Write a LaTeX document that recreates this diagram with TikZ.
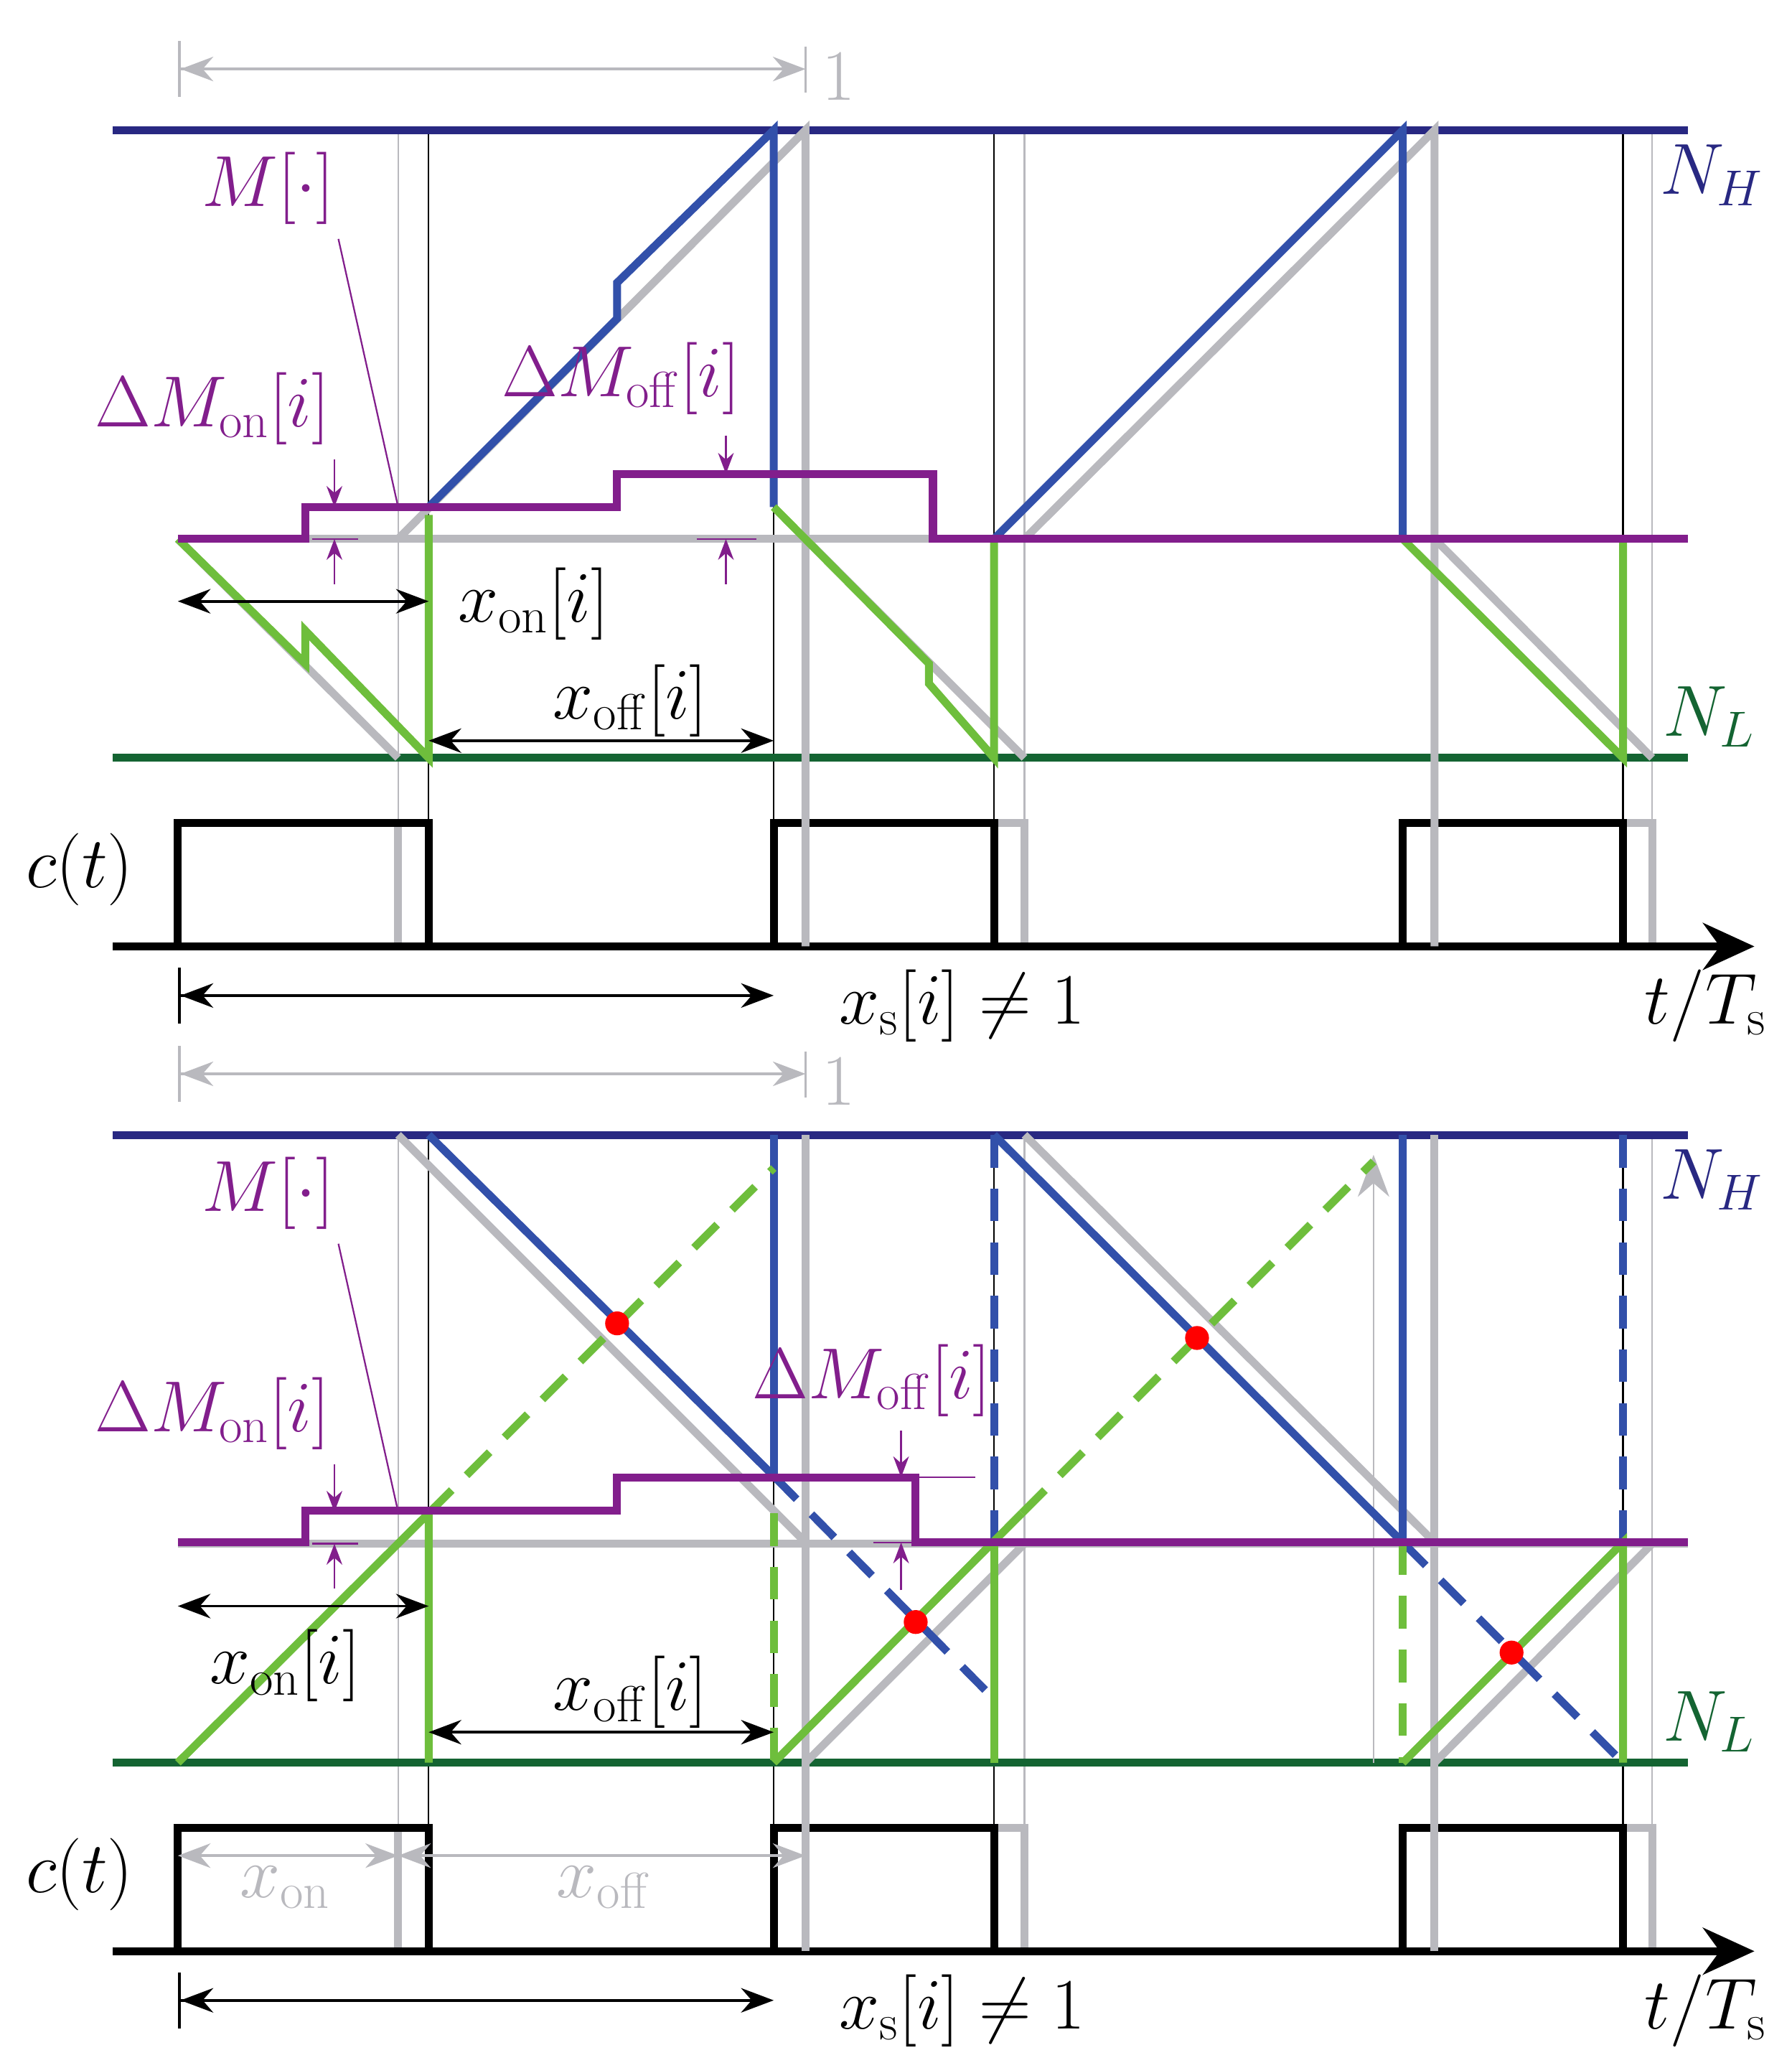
\RequirePackage{fix-cm}
\documentclass[tikz,border=0pt]{standalone}
\usepackage{amsmath}
\usetikzlibrary{arrows.meta}
\definecolor{navy}{RGB}{40,40,130}
\definecolor{rampblue}{RGB}{50,80,170}
\definecolor{rampgreen}{RGB}{110,190,60}
\definecolor{dkgreen}{RGB}{20,100,50}
\definecolor{mpurple}{RGB}{130,30,140}
\definecolor{lgray}{RGB}{185,185,190}
\tikzset{
  thk/.style={line width=3.4pt},
  thn/.style={line width=0.7pt},
  lbl/.style={font=\fontsize{31}{35}\selectfont, inner sep=0pt},
  dims/.style={line width=1.2pt, {Bar[width=24pt]Stealth[length=14pt]}-{Stealth[length=14pt]}},
  dim/.style={line width=1.2pt, {Stealth[length=14pt]}-{Stealth[length=14pt]}},
  dsh/.style={thk, dash pattern=on 14pt off 9pt}
}
\newcommand{\rails}{%
  % rails and shared grid
  \foreach \xx in {300,607,772,1081,1245} \draw[thn,lgray] (\xx,0) -- (\xx,615);
  \foreach \xx in {323,583,749,1223} \draw[thn] (\xx,0) -- (\xx,615);
  \draw[thk,navy] (85,0) -- (1272,0);
  \draw[thk,dkgreen] (85,473) -- (1272,473);
  \draw[thk,lgray] (134,308) -- (1272,308);
  \draw[dims,lgray] (134,-46) -- (607,-46);
  \draw[thn,lgray] (607,-63) -- (607,-28);
  \node[lbl,lgray] (one) at (632,-40) {$1$};
  % switching signal
  \draw[thk,lgray] (300,522) -- (300,615);
  \draw[thk,lgray] (607,615) -- (607,522) -- (772,522) -- (772,615);
  \draw[thk,lgray] (1081,615) -- (1081,522) -- (1245,522) -- (1245,615);
  \draw[thk] (134,615) -- (134,522) -- (323,522) -- (323,615);
  \draw[thk] (583,615) -- (583,522) -- (749,522) -- (749,615);
  \draw[thk] (1057,615) -- (1057,522) -- (1223,522) -- (1223,615);
  \draw[thk,-{Stealth[length=22pt,width=20pt]}] (85,615) -- (1322,615);
  \node[lbl] (ct) at (60,557) {$c(t)$};
  \node[lbl] (tts) at (1285,660) {$t/T_{\mathrm{s}}$};
  \node[lbl,navy] (nh) at (1290,34) {$N_H$};
  \node[lbl,dkgreen] (nl) at (1288,442) {$N_L$};
  \node[lbl,mpurple] (mm) at (202,44) {$M[\cdot]$};
  \draw[thn,mpurple] (255,82) -- (300,284);
  \draw[dims] (134,652) -- (583,652);
  \node[lbl] (xs) at (725,660) {$x_{\mathrm{s}}[i]\neq 1$};
  % on-step marker
  \node[lbl,mpurple] (don) at (160,210) {$\Delta M_{\mathrm{on}}[i]$};
  \draw[thn,mpurple,-{Stealth[length=9pt]}] (252,248) -- (252,284);
  \draw[thn,mpurple,-{Stealth[length=9pt]}] (252,342) -- (252,308);
  \draw[thn,mpurple] (235,308) -- (270,308);
}
\begin{document}
\begin{tikzpicture}[x=0.02cm,y=-0.02cm]
\useasboundingbox (0,0) rectangle (1350,1558);
% ---- top panel ----
\begin{scope}[shift={(0,98)}]
  \rails
  \draw[thk,lgray] (300,308) -- (607,0) -- (607,615);
  \draw[thk,lgray] (772,308) -- (1081,0) -- (1081,615);
  \draw[thk,lgray] (134,308) -- (300,473);
  \draw[thk,lgray] (607,308) -- (772,473);
  \draw[thk,lgray] (1081,308) -- (1245,473);
  \draw[thk,rampblue] (323,284) -- (465,142) -- (465,115) -- (583,0) -- (583,284);
  \draw[thk,rampblue] (749,308) -- (1057,0) -- (1057,308);
  \draw[thk,rampgreen] (134,308) -- (230,402) -- (230,377) -- (323,473) -- (323,290);
  \draw[thk,rampgreen] (583,284) -- (700,402) -- (700,417) -- (749,473) -- (749,308);
  \draw[thk,rampgreen] (1057,308) -- (1223,473) -- (1223,308);
  \draw[thk,mpurple] (134,308) -- (230,308) -- (230,284) -- (465,284) -- (465,259)
    -- (703,259) -- (703,308) -- (1272,308);
  \node[lbl,mpurple] (doff) at (468,187) {$\Delta M_{\mathrm{off}}[i]$};
  \draw[thn,mpurple,-{Stealth[length=9pt]}] (547,230) -- (547,259);
  \draw[thn,mpurple,-{Stealth[length=9pt]}] (547,342) -- (547,308);
  \draw[thn,mpurple] (525,308) -- (570,308);
  \draw[dim] (134,355) -- (323,355);
  \node[lbl] (xon) at (402,357) {$x_{\mathrm{on}}[i]$};
  \draw[dim] (323,460) -- (583,460);
  \node[lbl] (xoff) at (475,430) {$x_{\mathrm{off}}[i]$};
\end{scope}
% ---- bottom panel ----
\begin{scope}[shift={(0,855)}]
  \rails
  \draw[thk,lgray] (300,0) -- (607,307);
  \draw[thk,lgray] (607,0) -- (607,615);
  \draw[thk,lgray] (772,0) -- (1081,307);
  \draw[thk,lgray] (1081,0) -- (1081,615);
  \draw[thk,lgray] (607,473) -- (772,308);
  \draw[thk,lgray] (1081,473) -- (1245,308);
  \draw[thn,lgray,-{Stealth[length=18pt]}] (1035,473) -- (1035,15);
  \draw[thk,rampblue] (323,0) -- (583,257);
  \draw[thk,rampblue] (583,0) -- (583,257);
  \draw[dsh,rampblue] (583,257) -- (749,425);
  \draw[dsh,rampblue] (749,0) -- (749,473);
  \draw[thk,rampblue] (749,0) -- (1057,307) -- (1057,0);
  \draw[dsh,rampblue] (1057,307) -- (1223,473);
  \draw[dsh,rampblue] (1223,0) -- (1223,473);
  \draw[thk,rampgreen] (134,473) -- (323,285) -- (323,473);
  \draw[dsh,rampgreen] (323,285) -- (583,25);
  \draw[dsh,rampgreen] (583,285) -- (583,473);
  \draw[thk,rampgreen] (583,473) -- (770,285);
  \draw[thk,rampgreen] (749,307) -- (749,473);
  \draw[dsh,rampgreen] (770,285) -- (1035,20);
  \draw[dsh,rampgreen] (1057,307) -- (1057,473);
  \draw[thk,rampgreen] (1057,473) -- (1223,307) -- (1223,473);
  \draw[thk,mpurple] (134,307) -- (230,307) -- (230,283) -- (465,283) -- (465,258)
    -- (690,258) -- (690,307) -- (1272,307);
  \draw[thn,mpurple] (690,258) -- (735,258);
  \foreach \px/\py in {465/142,690/367,902/153,1139/390}
    \fill[red] (\px,\py) circle (9);
  \node[lbl,mpurple] (doff) at (657,185) {$\Delta M_{\mathrm{off}}[i]$};
  \draw[thn,mpurple,-{Stealth[length=9pt]}] (679,223) -- (679,258);
  \draw[thn,mpurple,-{Stealth[length=9pt]}] (679,343) -- (679,307);
  \draw[thn,mpurple] (658,307) -- (700,307);
  \draw[dim] (134,355) -- (323,355);
  \node[lbl] (xon) at (215,400) {$x_{\mathrm{on}}[i]$};
  \draw[dim] (323,450) -- (583,450);
  \node[lbl] (xoff) at (475,420) {$x_{\mathrm{off}}[i]$};
  \draw[dim,lgray] (134,543) -- (300,543);
  \node[lbl,lgray] (gxon) at (215,567) {$x_{\mathrm{on}}$};
  \draw[dim,lgray] (300,543) -- (607,543);
  \node[lbl,lgray] (gxoff) at (455,567) {$x_{\mathrm{off}}$};
\end{scope}
\end{tikzpicture}
\end{document}
